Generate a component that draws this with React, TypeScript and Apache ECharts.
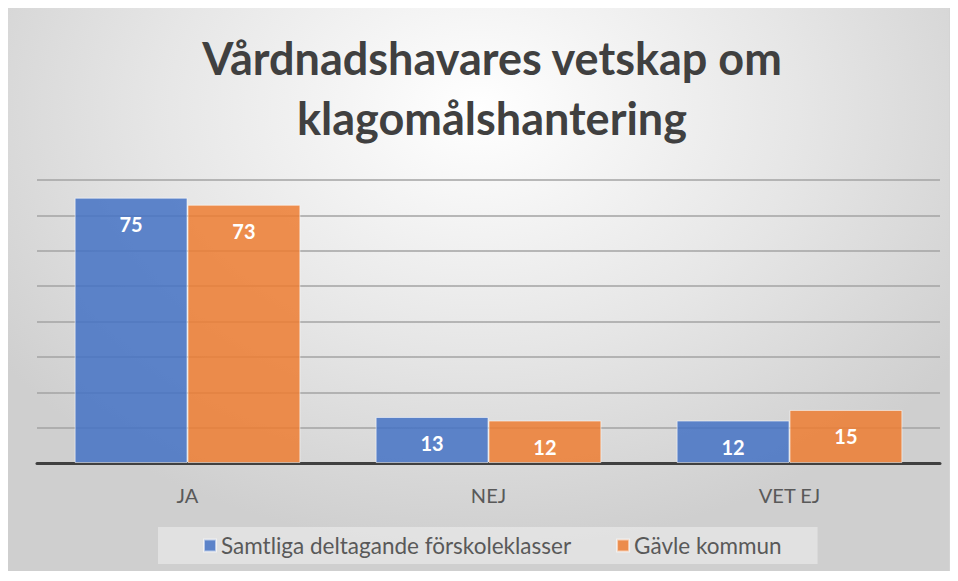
import React, { useEffect, useRef } from 'react';
import * as echarts from 'echarts';

const categories = ['JA', 'NEJ', 'VET EJ'];
const seriesNames = ['Samtliga deltagande förskoleklasser', 'Gävle kommun'];
const samtliga = [75, 13, 12];
const gavle = [73, 12, 15];
const titleText = 'Vårdnadshavares vetskap om\nklagomålshantering';
const yMax = 80;
const yInterval = 10;

export default function App() {
  const ref = useRef<HTMLDivElement>(null);
  useEffect(() => {
    const chart = echarts.init(ref.current!, null, { renderer: 'svg' });
    const font = 'Lato, "Open Sans", sans-serif';
    const barLabel = {
      show: true,
      position: 'insideTop',
      distance: 16,
      color: '#ffffff',
      fontWeight: 'bold',
      fontSize: 20,
      fontFamily: font,
    };
    chart.setOption({
      animation: false,
      backgroundColor: 'transparent',
      title: {
        text: titleText,
        left: 479,
        top: 15,
        textAlign: 'center',
        textStyle: {
          fontFamily: font,
          fontWeight: 'bold',
          fontSize: 45,
          lineHeight: 60,
          color: '#404040',
        },
      },
      legend: {
        left: 150,
        top: 519,
        padding: [7, 36, 7, 45],
        itemGap: 45,
        itemWidth: 12,
        itemHeight: 12,
        icon: 'rect',
        backgroundColor: 'rgba(240,240,240,0.55)',
        textStyle: { fontFamily: font, fontSize: 22.5, color: '#595959' },
        data: seriesNames,
      },
      grid: { left: 29, right: 9, top: 172, bottom: 108, containLabel: false },
      xAxis: {
        type: 'category',
        data: categories,
        axisTick: { show: false },
        axisLine: { show: true, lineStyle: { color: '#404040', width: 3 } },
        axisLabel: { margin: 22, fontFamily: font, fontSize: 20, color: '#595959' },
      },
      yAxis: {
        type: 'value',
        min: 0,
        max: yMax,
        interval: yInterval,
        axisLabel: { show: false },
        axisLine: { show: false },
        axisTick: { show: false },
        splitLine: { lineStyle: { color: '#a3a3a3', width: 1.5 } },
      },
      series: [
        {
          name: seriesNames[0],
          type: 'bar',
          data: samtliga,
          barGap: '0%',
          barCategoryGap: '25%',
          itemStyle: { color: 'rgba(68,114,196,0.85)', borderColor: 'rgba(255,255,255,0.55)', borderWidth: 1 },
          label: barLabel,
        },
        {
          name: seriesNames[1],
          type: 'bar',
          data: gavle,
          barGap: '0%',
          barCategoryGap: '25%',
          itemStyle: { color: 'rgba(237,125,49,0.85)', borderColor: 'rgba(255,255,255,0.55)', borderWidth: 1 },
          label: barLabel,
        },
      ],
    });
    return () => chart.dispose();
  }, []);
  return (
    <div
      ref={ref}
      style={{
        width: 941,
        height: 563,
        outline: '1px solid #d4d4d4',
        background:
          'radial-gradient(ellipse 62% 78% at 50% 18%, #ffffff 0%, #e6e6e6 55%, #cfcfcf 100%)',
      }}
    />
  );
}
